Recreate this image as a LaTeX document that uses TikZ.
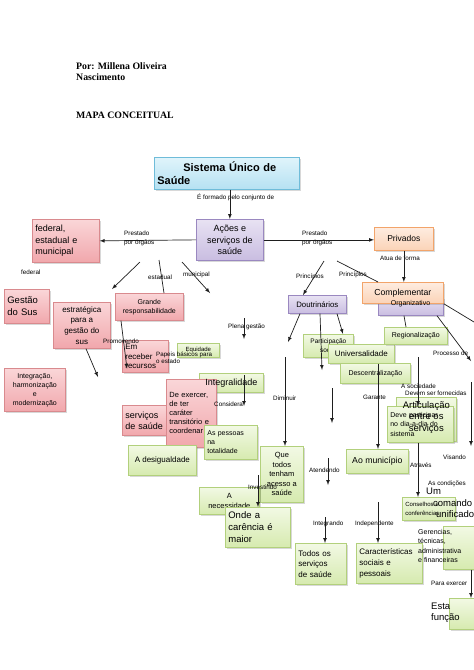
\documentclass[tikz,border=0pt]{standalone}
\usepackage{fontspec}
\setmainfont{Liberation Sans}
\newfontfamily\serifa{Liberation Serif}
\usetikzlibrary{shadows}

\newcommand{\tam}[2]{\fontsize{#1}{#2}\selectfont}

\definecolor{rosaborda}{HTML}{D98A8E}
\definecolor{rosatopo}{HTML}{FAD6D8}
\definecolor{rosabase}{HTML}{F1A7AC}
\definecolor{verdeborda}{HTML}{B2D07C}
\definecolor{verdetopo}{HTML}{F2F9E4}
\definecolor{verdebase}{HTML}{D6EAAF}
\definecolor{roxoborda}{HTML}{9A88C0}
\definecolor{roxotopo}{HTML}{E8E2F3}
\definecolor{roxobase}{HTML}{C9BDE1}
\definecolor{laranjaborda}{HTML}{F2A46A}
\definecolor{laranjatopo}{HTML}{FEECE0}
\definecolor{laranjabase}{HTML}{FBD3B7}
\definecolor{azulborda}{HTML}{6FBCD9}
\definecolor{azultopo}{HTML}{E0F4FB}
\definecolor{azulbase}{HTML}{B5E1F2}
\definecolor{traco}{HTML}{1E1E1E}

\tikzset{
  caixa/.style={draw, rectangle, anchor=north west, inner xsep=3pt, inner ysep=1pt, line width=0.7pt,
    drop shadow={shadow xshift=1.2pt, shadow yshift=-1.2pt, opacity=0.3}},
  rosa/.style={caixa, draw=rosaborda, top color=rosatopo, bottom color=rosabase},
  verde/.style={caixa, draw=verdeborda, top color=verdetopo, bottom color=verdebase},
  roxo/.style={caixa, draw=roxoborda, top color=roxotopo, bottom color=roxobase},
  laranja/.style={caixa, draw=laranjaborda, top color=laranjatopo, bottom color=laranjabase},
  azul/.style={caixa, draw=azulborda, top color=azultopo, bottom color=azulbase},
  titulo/.style={anchor=west, align=left, inner sep=0pt, font=\serifa\bfseries\tam{9.8}{11}},
  rotulo/.style={anchor=west, align=left, inner sep=0pt, font=\tam{6.3}{8.5}},
  solto/.style={anchor=north west, align=left, inner sep=0pt},
  seta/.style={-latex, draw=traco, line width=0.7pt},
  linha/.style={draw=traco, line width=0.7pt}
}

\begin{document}
\begin{tikzpicture}[x=1pt,y=-1pt]
        \fill[white] (0,0) rectangle (474,670);
        \useasboundingbox (0,0) rectangle (474,670);

        % titulo
        \node[titulo] (autor) at (76,72) {Por: Millena Oliveira\\Nascimento};
        \node[titulo] (mapa) at (76,115) {MAPA CONCEITUAL};

        % topo do mapa
        \node[azul, minimum width=145, minimum height=32, text width=139, align=left,
              font=\bfseries\tam{11}{12.5}] (sus) at (154,157) {\hspace*{26pt}Sistema Único de\\Saúde};
        \node[roxo, minimum width=67, minimum height=41, align=center, font=\tam{9}{11.5}] (acoes) at (196,219) {Ações e\\serviços de\\saúde};
        \node[rosa, minimum width=67, minimum height=43, text width=61, align=left, font=\tam{9}{11.5}] (fed) at (32,219) {federal,\\estadual e\\municipal};
        \node[laranja, minimum width=59, minimum height=23, font=\tam{8.5}{10}] (priv) at (374,227) {Privados};
        \node[roxo, minimum width=65, minimum height=18] (org) at (378,297) {};
        \node[laranja, minimum width=81, minimum height=21, font=\tam{8.7}{10}] (comp) at (362,282) {Complementar};
        \node[inner sep=0pt, font=\tam{7}{8}] (orgtxt) at (410.5,303.5) {Organizativo};
        \node[roxo, minimum width=58, minimum height=18, font=\tam{7.8}{9}] (dout) at (288,295) {Doutrinários};

        % lado esquerdo
        \node[rosa, minimum width=45, minimum height=34, text width=39, align=left, font=\tam{9.5}{12}] (gestao) at (4,289) {Gestão\\do Sus};
        \node[rosa, minimum width=57, minimum height=46, align=center, font=\tam{8}{10.7}] (estrat) at (53,302) {estratégica\\para a\\gestão do\\sus};
        \node[rosa, minimum width=68, minimum height=27, align=center, font=\tam{7}{9}] (grande) at (115,293) {Grande\\responsabilidade};
        \node[rosa, minimum width=46, minimum height=32, text width=40, align=left, font=\tam{8}{9.5}] (receber) at (122,340) {Em\\receber\\recursos};
        \node[verde, minimum width=42, minimum height=14, font=\tam{6}{7}] (equid) at (177,343) {Equidade};
        \node[rosa, minimum width=61, minimum height=43, align=center, font=\tam{7}{9}] (integr) at (4,368) {Integração,\\harmonização\\e\\modernização};
        \node[verde, minimum width=64, minimum height=19] (integral) at (199,373) {};
        \node[rosa, minimum width=45, minimum height=30, text width=39, align=left, font=\tam{9}{11}] (servicos) at (122,405) {serviços\\de saúde};
        \node[rosa, minimum width=50, minimum height=68, text width=44, align=left, font=\tam{7.5}{9}] (exercer) at (166,379) {De exercer,\\de ter\\caráter\\transitório e\\coordenar};
        \node[inner sep=0pt, font=\tam{9}{10}] (integraltxt) at (integral) {Integralidade};
        \node[verde, minimum width=68, minimum height=30, font=\tam{8}{9}] (desig) at (128,445) {A desigualdade};
        \node[verde, minimum width=53, minimum height=34, text width=47, align=left, font=\tam{7}{9}] (pessoas) at (204,425) {As pessoas\\na\\totalidade};

        % centro
        \node[verde, minimum width=43, minimum height=56, align=center, font=\tam{7.5}{9.5}] (quetodos) at (260,446) {Que\\todos\\tenham\\acesso a\\saúde};
        \node[verde, minimum width=60, minimum height=27, align=center, font=\tam{7.5}{10}] (necess) at (199,487) {A\\necessidade};
        \node[verde, minimum width=65, minimum height=40, text width=59, align=left, font=\tam{9.5}{12}] (carencia) at (225,507) {Onde a\\carência é\\maior};
        \node[verde, minimum width=51, minimum height=41, text width=45, align=left, font=\tam{8}{10.5}] (todosserv) at (295,543) {Todos os\\serviços\\de saúde};

        % lado direito
        \node[verde, minimum width=50, minimum height=23, align=center, font=\tam{6.5}{8.5}] (partic) at (303,334) {Participação\\social};
        \node[verde, minimum width=66, minimum height=19, font=\tam{8}{9}] (univ) at (328,344) {Universalidade};
        \node[verde, minimum width=70, minimum height=20, font=\tam{7}{8}] (descent) at (340,363) {Descentralização};
        \node[verde, minimum width=63, minimum height=17, font=\tam{7}{8}] (region) at (384,327) {Regionalização};
        \node[verde, minimum width=60, minimum height=44] (artic) at (396,397) {};
        \node[verde, minimum width=66, minimum height=36, text width=60, align=left,
              font=\tam{7}{9.5}] (deve) at (387,406) {Deve participar\\no dia-a-dia do\\sistema};
        \node[inner sep=0pt, align=center, font=\tam{9.5}{11.5}] (artictxt) at ([yshift=2pt]artic) {Articulação\\entre os\\serviços};
        \node[verde, minimum width=62, minimum height=24, font=\tam{8.7}{10}] (munic) at (346,449) {Ao município};
        \node[verde, minimum width=53, minimum height=23, text width=47, align=left, font=\tam{6}{9}] (conselhos) at (402,497) {Conselhos e\\conferências};
        \node[solto, font=\tam{9.5}{11.5}] (comando) at (426,488) {Um\\\hspace*{7pt}comando\\\hspace*{10pt}unificado};
        \node[verde, minimum width=66, minimum height=40, text width=60, align=left, font=\tam{8}{11}] (caract) at (356,543) {Características\\sociais e\\pessoais};
        \node[verde, minimum width=33, minimum height=43] (gerenc) at (443,526) {};
        \node[solto, font=\tam{7}{9.5}] (gerenctxt) at (418,529) {Gerencias,\\técnicas,\\administrativa\\e financeiras};
        \node[verde, minimum width=27, minimum height=31] (funcao) at (449,598) {};
        \node[solto, font=\tam{9.5}{11}] (funcaotxt) at (431,603) {Esta\\função};

        % rotulos das ligacoes
        \node[rotulo] (formado) at (197,197) {É formado pelo conjunto de};
        \node[rotulo, anchor=north west] (prest1) at (124,231) {Prestado\\por órgãos};
        \node[rotulo, anchor=north west] (prest2) at (302,231) {Prestado\\por órgãos};
        \node[rotulo] (lfederal) at (21,272) {federal};
        \node[rotulo] (lestadual) at (148,277) {estadual};
        \node[rotulo] (lmunicipal) at (183,275) {municipal};
        \node[rotulo] (atua) at (380,258) {Atua de forma};
        \node[rotulo] (princ1) at (296,277) {Princípios};
        \node[rotulo] (princ2) at (339,275) {Princípios};
        \node[rotulo] (promov) at (103,341) {Promovendo};
        \node[rotulo, anchor=north west, font=\tam{6.2}{7}] (papeis) at (156,352) {Papeis básicos para\\o estado};
        \node[rotulo] (plena) at (228,327) {Plena gestão};
        \node[rotulo] (considera) at (214,404) {Considera};
        \node[rotulo] (diminuir) at (273,398) {Diminuir};
        \node[rotulo] (investindo) at (248,487) {Investindo};
        \node[rotulo] (atendendo) at (309,470) {Atendendo};
        \node[rotulo] (garante) at (363,397) {Garante};
        \node[rotulo] (integrando) at (313,524) {Integrando};
        \node[rotulo] (independente) at (355,524) {Independente};
        \node[rotulo] (processo) at (433,353) {Processo de};
        \node[rotulo] (sociedade) at (401,386) {A sociedade};
        \node[rotulo] (fornecidas) at (405,393) {Devem ser fornecidas};
        \node[rotulo] (visando) at (443,457) {Visando};
        \node[rotulo] (atraves) at (410,465) {Através};
        \node[rotulo] (condicoes) at (428,484) {As condições};
        \node[rotulo] (paraexercer) at (431,583) {Para exercer};

        % pontas soltas
        \coordinate (r1a) at (140,262); \coordinate (r1b) at (112,289);
        \coordinate (r2a) at (159,260); \coordinate (r2b) at (164,293);
        \coordinate (r3a) at (182,262); \coordinate (r3b) at (210,293);
        \coordinate (p1) at (324,261); \coordinate (p2) at (337,261);
        \coordinate (e1) at (98,377);
        \coordinate (pg1) at (244,318); \coordinate (pg2) at (244,339);
        \coordinate (c1) at (244,375); \coordinate (c2) at (244,406);
        \coordinate (d1) at (288,342); \coordinate (d2) at (322,370);
        \coordinate (v1) at (332,388); \coordinate (v2) at (332,423);
        \coordinate (dm) at (285,357);
        \coordinate (iv) at (258,475);
        \coordinate (at1) at (328,458); \coordinate (at2) at (328,485);
        \coordinate (ig) at (325,517);
        \coordinate (id) at (378,502);
        \coordinate (o1) at (474,322); \coordinate (o2) at (471,361);
        \coordinate (vs1) at (471,382); \coordinate (vs2) at (471,446);
        \coordinate (so) at (418,357);

        % ligacoes
        \draw[seta] (acoes.north |- sus.south) -- (acoes.north);
        \draw[seta] (acoes.west) -- (fed.east);
        \draw[seta] (acoes.east) -- (acoes.east -| priv.west);
        \draw[seta] (priv.south) -- (priv.south |- comp.north);
        \draw[seta] (r1a) -- (r1b);
        \draw[linha] (r2a) -- (r2b);
        \draw[seta] (r3a) -- (r3b);
        \draw[seta] (p1) -- ([xshift=15pt]dout.north west);
        \draw[linha] (p2) -- ([xshift=16pt]comp.north west);
        \draw[seta] ([xshift=33pt]estrat.south west) -- (e1);
        \draw[seta] ([xshift=6pt]grande.south west) -- ([xshift=5pt,yshift=4pt]receber.south west);
        \draw[seta] (pg1) -- (pg2);
        \draw[seta] (c1) -- (c2);
        \draw[seta] ([xshift=12pt]dout.south west) -- (d1);
        \draw[seta] ([xshift=32pt]dout.south west) -- (d2);
        \draw[seta] ([xshift=49pt]dout.south west) -- ([xshift=40pt]partic.north west);
        \draw[seta] (v1) -- (v2);
        \draw[seta] (dm) -- ([xshift=25pt]quetodos.north west);
        \draw[seta] ([xshift=50pt]univ.south west) -- ([xshift=32pt]munic.north west);
        \draw[seta] (iv) -- ([xshift=33pt]carencia.north west);
        \draw[seta] (at1) -- (at2);
        \draw[seta] (ig) -- ([xshift=30pt]todosserv.north west);
        \draw[seta] (id) -- ([xshift=22pt]caract.north west);
        \draw[linha] ([xshift=26pt]org.south west) -- ([xshift=22pt]region.north west);
        \draw[linha] (comp.south east) -- (o1);
        \draw[seta] ([xshift=59pt]org.south west) -- (o2);
        \draw[seta] (vs1) -- (vs2);
        \draw[seta] (so) -- ([xshift=31pt]deve.north west);
        \draw[seta] ([xshift=31pt]deve.south west) -- ([xshift=16pt]conselhos.north west);
        \draw[seta] ([xshift=28pt]gerenc.south west) -- ([xshift=22pt]funcao.north west);
\end{tikzpicture}
\end{document}
